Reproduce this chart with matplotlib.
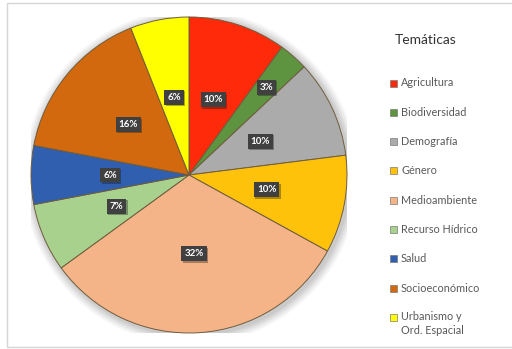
import numpy as np
import matplotlib
matplotlib.use("Agg")
import matplotlib.pyplot as plt
from matplotlib.patches import Rectangle, Circle
import matplotlib.patheffects as pe

plt.rcParams['font.family'] = ['Lato', 'DejaVu Sans']

categories = ["Agricultura", "Biodiversidad", "Demografía", "Género", "Medioambiente",
              "Recurso Hídrico", "Salud", "Socioeconómico", "Urbanismo y\nOrd. Espacial"]
values = [10, 3, 10, 10, 32, 7, 6, 16, 6]
colors = ["#FF2A0A", "#5E9440", "#ABABAB", "#FFC20A", "#F5B488",
          "#A9D18E", "#2F5FAE", "#D2690E", "#FFFF00"]
legend_title = "Temáticas"

W, H = 512, 349
fig = plt.figure(figsize=(W / 100, H / 100), dpi=100)
fig.patch.set_facecolor("white")

# outer chart frame
fig.add_artist(Rectangle((7 / W, 2 / H), 520 / W, 344 / H, transform=fig.transFigure,
                         fill=False, ec="#D6D6D6", lw=1.0))

# pie axes (square in pixels)
cx, cy, r = 189, 175, 158
ax = fig.add_axes([(cx - r) / W, (H - cy - r) / H, 2 * r / W, 2 * r / H])

# soft shadow behind the pie
for i, a in enumerate([0.05, 0.05, 0.045, 0.04, 0.035]):
    ax.add_patch(Circle((0.012, -0.012), 1.0 + 0.012 * (i + 1), fc="#000000",
                        ec="none", alpha=a, zorder=0))
ax.add_patch(Circle((0, 0), 1.0, fc="white", ec="none", zorder=0.5))

wedges, _ = ax.pie(values, colors=colors, startangle=90, counterclock=False,
                   radius=1.0, wedgeprops=dict(edgecolor="#6E5B3C", linewidth=0.7))
for w in wedges:
    w.set_zorder(1)
ax.set_xlim(-1, 1)
ax.set_ylim(-1, 1)
ax.axis("off")

# percentage labels
for w, v in zip(wedges, values):
    mid = np.deg2rad((w.theta1 + w.theta2) / 2)
    rr = 0.74 if v < 5 else 0.5
    t = ax.text(rr * np.cos(mid), rr * np.sin(mid), f"{v}%", ha="center", va="center",
                color="white", fontsize=7, fontweight="bold", zorder=3,
                bbox=dict(boxstyle="square,pad=0.3", fc="#404040", ec="none"))
    t.get_bbox_patch().set_path_effects([pe.SimplePatchShadow(offset=(1, -1), alpha=0.35),
                                         pe.Normal()])

# legend
fig.text(395 / W, 1 - 40 / H, legend_title, fontsize=10, color="#333333",
         ha="left", va="center")
y0, dy = 83, 29.3
for i, (lab, c) in enumerate(zip(categories, colors)):
    y = y0 + i * dy
    fig.add_artist(Rectangle((390 / W, 1 - (y + 3.5) / H), 7 / W, 7 / H,
                             transform=fig.transFigure, fc=c, ec="#7A7A7A", lw=0.5))
    if "\n" in lab:
        fig.text(401 / W, 1 - (y - 6) / H, lab, fontsize=7.8, color="#595959",
                 ha="left", va="top", linespacing=1.3)
    else:
        fig.text(401 / W, 1 - y / H, lab, fontsize=7.8, color="#595959",
                 ha="left", va="center")

fig.savefig("out.png", dpi=100)
